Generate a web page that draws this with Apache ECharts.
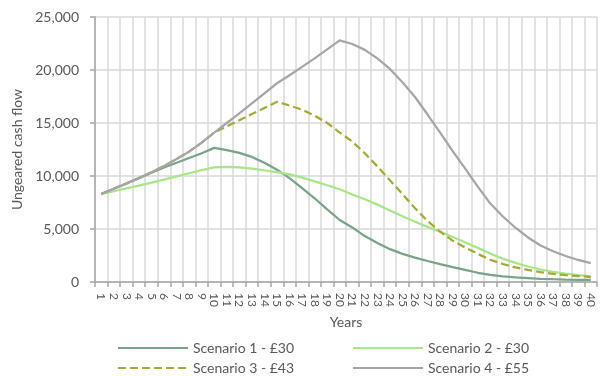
<!DOCTYPE html>
<html>
<head>
<meta charset="utf-8">
<title>Ungeared cash flow by scenario</title>
<script src="https://cdn.jsdelivr.net/npm/echarts@6/dist/echarts.min.js"></script>
<style>
  html, body { margin: 0; padding: 0; background: #ffffff; }
  #chart { width: 606px; height: 376px; }
</style>
</head>
<body>
<div id="chart"></div>
<script>
// Project years
var years = ['1','2','3','4','5','6','7','8','9','10',
             '11','12','13','14','15','16','17','18','19','20',
             '21','22','23','24','25','26','27','28','29','30',
             '31','32','33','34','35','36','37','38','39','40'];

// Ungeared cash flow per year for each price scenario
var scenario1 = [8300, 8800, 9300, 9800, 10300, 10800, 11250, 11700, 12150, 12650,
                 12450, 12180, 11800, 11250, 10600, 9800, 8850, 7900, 6850, 5850,
                 5150, 4330, 3680, 3100, 2650, 2300, 1980, 1680, 1400, 1150,
                 870, 670, 540, 440, 370, 300, 260, 230, 210, 200];

var scenario2 = [8300, 8560, 8830, 9100, 9380, 9660, 9960, 10260, 10550, 10820,
                 10860, 10820, 10700, 10530, 10370, 10150, 9850, 9490, 9130, 8750,
                 8250, 7800, 7300, 6750, 6200, 5680, 5200, 4750, 4250, 3750,
                 3220, 2680, 2200, 1800, 1460, 1180, 960, 790, 650, 540];

var scenario3 = [8300, 8800, 9300, 9800, 10350, 10950, 11600, 12300, 13150, 14100,
                 14680, 15260, 15840, 16420, 17000, 16650, 16250, 15700, 15000, 14100,
                 13250, 12150, 10900, 9600, 8300, 6950, 5750, 4750, 3900, 3250,
                 2650, 2100, 1700, 1380, 1150, 930, 770, 650, 560, 470];

var scenario4 = [8300, 8800, 9300, 9800, 10350, 10950, 11600, 12300, 13150, 14100,
                 15000, 15900, 16850, 17800, 18750, 19500, 20300, 21100, 21950, 22800,
                 22450, 21900, 21100, 20100, 18850, 17450, 15800, 14100, 12350, 10700,
                 9000, 7400, 6180, 5120, 4200, 3450, 2900, 2450, 2080, 1780];

var seriesNames = ['Scenario 1 - £30', 'Scenario 2 - £30', 'Scenario 3 - £43', 'Scenario 4 - £55'];

// Value axis ticks
var yMin = 0, yMax = 25000, yStep = 5000;

var FONT = 'Lato';
var TEXT = '#595959';
var GRID = '#d9d9d9';
var AXIS = '#a6a6a6';

var chart = echarts.init(document.getElementById('chart'), null, { renderer: 'canvas' });

function lineSeries(name, data, color, dashed) {
  return {
    name: name,
    type: 'line',
    data: data,
    symbol: 'none',
    smooth: false,
    lineStyle: { color: color, width: 2.25, type: dashed ? [8, 4] : 'solid' },
    itemStyle: { color: color },
    emphasis: { disabled: true }
  };
}

// One legend entry per slot: two columns, two rows
function legendEntry(name, left, top) {
  return {
    data: [name],
    left: left, top: top,
    padding: 0,
    itemWidth: 70, itemHeight: 14,
    itemStyle: { opacity: 0 },
    textStyle: { fontFamily: FONT, fontSize: 14, color: TEXT },
    selectedMode: false
  };
}

chart.setOption({
  animation: false,
  textStyle: { fontFamily: FONT },
  grid: { left: 95, right: 9, top: 17, bottom: 94, containLabel: false },
  legend: [
    legendEntry(seriesNames[0], 117, 341),
    legendEntry(seriesNames[1], 352, 341),
    legendEntry(seriesNames[2], 117, 361),
    legendEntry(seriesNames[3], 352, 361)
  ],
  xAxis: {
    type: 'category',
    data: years,
    boundaryGap: true,
    name: 'Years',
    nameLocation: 'middle',
    nameGap: 33,
    nameTextStyle: { fontFamily: FONT, fontSize: 14, color: TEXT },
    axisLine: { show: true, lineStyle: { color: AXIS, width: 1.5 } },
    axisTick: { show: true, interval: 0, length: 5, lineStyle: { color: AXIS, width: 1.5 } },
    axisLabel: { interval: 0, rotate: -90, fontSize: 12, color: TEXT, margin: 11, fontFamily: FONT },
    splitLine: { show: true, interval: 0, lineStyle: { color: GRID, width: 1.5 } }
  },
  yAxis: {
    type: 'value',
    min: yMin, max: yMax, interval: yStep,
    name: 'Ungeared cash flow',
    nameLocation: 'middle',
    nameGap: 70,
    nameTextStyle: { fontFamily: FONT, fontSize: 14, color: TEXT },
    axisLine: { show: true, lineStyle: { color: AXIS, width: 1.5 } },
    axisTick: { show: true, length: 5, lineStyle: { color: AXIS, width: 1.5 } },
    axisLabel: {
      fontSize: 14, color: TEXT, margin: 16, fontFamily: FONT,
      formatter: function (v) { return v.toLocaleString('en-US'); }
    },
    splitLine: { show: true, lineStyle: { color: GRID, width: 1.5 } }
  },
  series: [
    lineSeries(seriesNames[0], scenario1, '#7aa489', false),
    lineSeries(seriesNames[1], scenario2, '#a9e68b', false),
    lineSeries(seriesNames[2], scenario3, '#a5a93a', true),
    lineSeries(seriesNames[3], scenario4, '#a6a6a6', false)
  ]
});
</script>
</body>
</html>
